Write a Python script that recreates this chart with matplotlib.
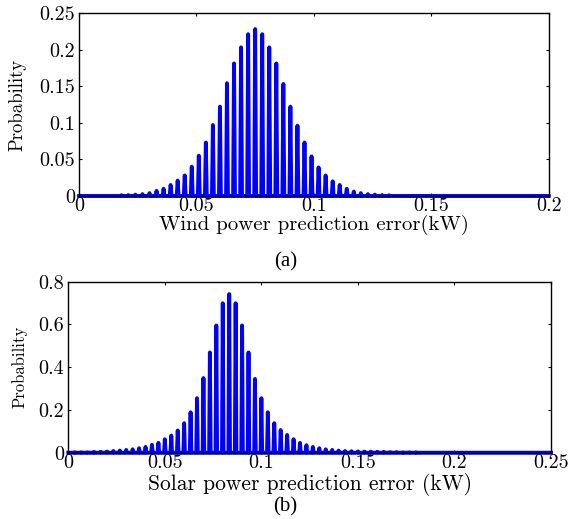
import matplotlib
matplotlib.use("Agg")
import matplotlib.pyplot as plt
import numpy as np

plt.rcParams["font.family"] = "cmr10"
plt.rcParams["axes.formatter.use_mathtext"] = True
plt.rcParams["mathtext.fontset"] = "cm"

# (a) wind power prediction error: spikes every 0.003 kW, k = 6..44
wind_step = 0.003
wind_k = np.arange(6, 45)
wind_prob = [0.001, 0.0012, 0.0018, 0.0025, 0.0039, 0.007, 0.0098, 0.015, 0.021,
             0.028, 0.040, 0.055, 0.073, 0.097, 0.122, 0.154, 0.181, 0.203, 0.221,
             0.228, 0.221, 0.203, 0.181, 0.153, 0.122, 0.096, 0.073, 0.054, 0.039,
             0.028, 0.020, 0.015, 0.0098, 0.006, 0.0039, 0.0025, 0.0018, 0.0012, 0.001]

# (b) solar power prediction error: spikes every 1/300 kW, k = 1..54
solar_step = 1 / 300
solar_k = np.arange(1, 55)
solar_prob = [0.0023, 0.0023, 0.0023, 0.004, 0.004, 0.0055, 0.008, 0.010, 0.013,
              0.016, 0.021, 0.027, 0.037, 0.046, 0.063, 0.080, 0.104, 0.138, 0.189,
              0.255, 0.349, 0.469, 0.595, 0.699, 0.742, 0.699, 0.595, 0.469, 0.345,
              0.255, 0.189, 0.138, 0.106, 0.083, 0.063, 0.046, 0.035, 0.027, 0.021,
              0.016, 0.013, 0.010, 0.008, 0.007, 0.006, 0.005, 0.005, 0.004, 0.004,
              0.003, 0.003, 0.002, 0.002, 0.002]

wind_ticks = [0, 0.05, 0.1, 0.15, 0.2]
wind_yticks = [0, 0.05, 0.1, 0.15, 0.2, 0.25]
solar_ticks = [0, 0.05, 0.1, 0.15, 0.2, 0.25]
solar_yticks = [0, 0.2, 0.4, 0.6, 0.8]


def spike_line(centers, probs, half, xmax):
    # polyline 0 -> p -> 0 around each center, flat at zero elsewhere
    xs, ys = [0.0], [0.0]
    for c, p in zip(centers, probs):
        xs += [c - half, c, c + half]
        ys += [0.0, p, 0.0]
    xs.append(xmax); ys.append(0.0)
    return xs, ys


def fmt(v):
    return "0" if v == 0 else f"{v:g}"


def style(ax, xt, yt, size):
    ax.set_xticks(xt); ax.set_xticklabels([fmt(v) for v in xt], fontsize=size)
    ax.set_yticks(yt); ax.set_yticklabels([fmt(v) for v in yt], fontsize=size)
    ax.tick_params(direction="in", length=2.5, width=0.8, top=True, right=True, pad=3)
    ax.tick_params(axis="x", pad=1)
    for s in ax.spines.values():
        s.set_linewidth(1.0)


fig = plt.figure(figsize=(5.71, 5.19), dpi=100)

ax1 = fig.add_axes([0.1384, 0.6224, 0.8226, 0.3526])
x, y = spike_line(wind_k * wind_step, wind_prob, 0.0004, 0.2)
ax1.plot(x, y, color="#0000ff", lw=2.8, solid_joinstyle="round", clip_on=False)
ax1.set_xlim(0, 0.2); ax1.set_ylim(0, 0.25)
style(ax1, wind_ticks, wind_yticks, 14.5)
ax1.set_xlabel("Wind power prediction error(kW)", fontsize=15, labelpad=0)
ax1.set_ylabel("Probability", fontsize=13.5, labelpad=9)
fig.text(0.501, 0.495, "(a)", ha="center", va="center",
         fontfamily="Liberation Serif", fontsize=15)

ax2 = fig.add_axes([0.1196, 0.1277, 0.8454, 0.3296])
x, y = spike_line(solar_k * solar_step, solar_prob, 0.0004, 0.25)
ax2.plot(x, y, color="#0000ff", lw=2.8, solid_joinstyle="round", clip_on=False)
ax2.set_xlim(0, 0.25); ax2.set_ylim(0, 0.8)
style(ax2, solar_ticks, solar_yticks, 14.5)
ax2.set_xlabel("Solar power prediction error (kW)", fontsize=15.5, labelpad=1)
ax2.set_ylabel("Probability", fontsize=12, labelpad=8)
fig.text(0.4991, 0.0231, "(b)", ha="center", va="center",
         fontfamily="Liberation Serif", fontsize=15)

fig.savefig("out.png", dpi=100)
